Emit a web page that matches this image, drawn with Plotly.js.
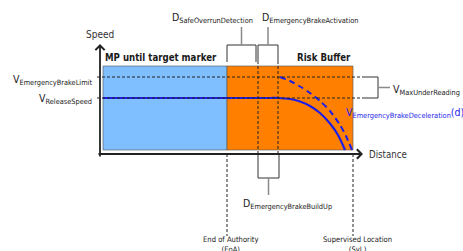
<!DOCTYPE html>
<html><head><meta charset="utf-8">
<script src="https://cdn.plot.ly/plotly-3.0.1.min.js"></script>
<style>html,body{margin:0;padding:0;background:#fff;}#chart{width:463px;height:251px;}</style>
</head><body><div id="chart"></div>
<script>
// ---- data (diagram units: distance along track, speed) ----
const zoneLabels = ["MP until target marker", "Risk Buffer"];
const zoneStart = [3, 127];
const zoneEnd = [127, 253];
const zoneLow = 4, zoneHigh = 88;

const speedLabels = ["V<sub>EmergencyBrakeLimit</sub>", "V<sub>ReleaseSpeed</sub>"];
const speedLevels = [77, 56];

const markerLabels = ["End of Authority<br>(EoA)", "Supervised Location<br>(SvL)"];
const markerDist = [127, 253];

const intervalLabels = ["D<sub>SafeOverrunDetection</sub>", "D<sub>EmergencyBrakeActivation</sub>", "D<sub>EmergencyBrakeBuildUp</sub>"];
const intervalStart = [127, 158, 158];
const intervalEnd = [156, 178, 179];

const releaseDist = [3, 170, 178, 190, 200, 210, 220, 230, 238, 245];
const releaseSpeed = [56, 56, 56, 55, 52.5, 48, 41, 30.5, 19, 4];
const ebdDist = [180, 190, 200, 210, 220, 230, 240, 246, 252];
const ebdSpeed = [77, 73, 67.5, 61, 53, 43, 29, 18, 4];

const axisLabels = ["Speed", "Distance"];
const curveLabel = "V<sub>EmergencyBrakeDeceleration</sub>(d)";
const bracketLabel = "V<sub>MaxUnderReading</sub>";

// ---- drawing ----
const FONT = "DejaVu Sans Condensed, DejaVu Sans, sans-serif";
const TXT = "#1a1a1a";
const axisEndX = 263, axisTopY = 110;
const shapes = [];
const ann = [];

// zones
const zoneFill = ["#80bfff", "#ff8000"];
zoneLabels.forEach((lab, i) => {
  shapes.push({type: "rect", xref: "x", yref: "y", x0: zoneStart[i], x1: zoneEnd[i], y0: zoneLow, y1: zoneHigh,
    fillcolor: zoneFill[i], line: {color: "rgba(90,90,90,0.65)", width: 1}, layer: "below"});
  ann.push({x: i === 0 ? zoneStart[i] : zoneEnd[i], y: zoneHigh, xref: "x", yref: "y", text: "<b>" + lab + "</b>",
    showarrow: false, xanchor: i === 0 ? "left" : "right", yanchor: "bottom", yshift: 1,
    font: {family: FONT, size: 9.6, color: TXT}});
});

// speed levels (thin dashed)
speedLevels.forEach((v, i) => {
  shapes.push({type: "line", xref: "x", yref: "y", x0: -3, x1: axisEndX, y0: v, y1: v,
    line: {color: "#222", width: 1, dash: "3px,2px"}});
  ann.push({x: 0, y: v, xref: "x", yref: "y", text: speedLabels[i], showarrow: false,
    xanchor: "right", yanchor: "middle", xshift: -6, yshift: i === 0 ? -3 : -1,
    font: {family: FONT, size: 10.5, color: TXT}});
});

// vertical dashed lines inside the risk buffer
[intervalStart[1], intervalEnd[1]].forEach(d => {
  shapes.push({type: "line", xref: "x", yref: "y", x0: d, x1: d, y0: 0, y1: 92,
    line: {color: "#222", width: 1, dash: "3px,2px"}});
});

// markers EoA / SvL
markerDist.forEach((d, i) => {
  shapes.push({type: "line", xref: "x", yref: "y", x0: d, x1: d, y0: 0, y1: -82,
    line: {color: "#222", width: 1, dash: "3px,2px"}});
  ann.push({x: d, y: -82, xref: "x", yref: "y", text: markerLabels[i], showarrow: false,
    xanchor: "center", yanchor: "top", xshift: 4, yshift: 3,
    font: {family: FONT, size: 7.6, color: TXT}});
});

// interval brackets
intervalLabels.forEach((lab, i) => {
  const a = intervalStart[i], b = intervalEnd[i], c = (a + b) / 2;
  if (i < 2) {
    shapes.push({type: "path", xref: "x", yref: "y", path: `M${a},92 L${a},109 L${b},109 L${b},92`,
      line: {color: "#333", width: 1}});
    shapes.push({type: "line", xref: "x", yref: "y", x0: c, x1: c, y0: 109, y1: 127,
      line: {color: "#8a8a8a", width: 1.5}});
    ann.push({x: c, y: 127, xref: "x", yref: "y", text: lab, showarrow: false,
      xanchor: i === 0 ? "right" : "left", xshift: i === 0 ? 13 : -8, yanchor: "bottom",
      font: {family: FONT, size: 10.5, color: TXT}});
  } else {
    shapes.push({type: "path", xref: "x", yref: "y", path: `M${a},0 L${a},-24 L${b},-24 L${b},0`,
      line: {color: "#333", width: 1}});
    shapes.push({type: "line", xref: "x", yref: "y", x0: c, x1: c, y0: -24, y1: -41,
      line: {color: "#8a8a8a", width: 1.5}});
    ann.push({x: c, y: -41, xref: "x", yref: "y", text: lab, showarrow: false,
      xanchor: "left", xshift: -28, yanchor: "top",
      font: {family: FONT, size: 10.5, color: TXT}});
  }
});

// V_MaxUnderReading bracket
const bx = axisEndX + 15, mid = (speedLevels[0] + speedLevels[1]) / 2;
shapes.push({type: "path", xref: "x", yref: "y",
  path: `M${axisEndX},${speedLevels[0]} L${bx},${speedLevels[0]} L${bx},${speedLevels[1]} L${axisEndX},${speedLevels[1]}`,
  line: {color: "#333", width: 1}});
shapes.push({type: "line", xref: "x", yref: "y", x0: bx, x1: bx + 12, y0: mid, y1: mid,
  line: {color: "#8a8a8a", width: 1.5}});
ann.push({x: bx + 12, y: mid, xref: "x", yref: "y", text: bracketLabel, showarrow: false,
  xanchor: "left", yanchor: "middle", xshift: 1, yshift: -2, font: {family: FONT, size: 10.5, color: TXT}});

// curve label
ann.push({x: releaseDist[releaseDist.length - 1], y: 41, xref: "x", yref: "y", text: curveLabel, showarrow: false,
  xanchor: "left", yanchor: "middle", xshift: -1, font: {family: FONT, size: 10.5, color: "#1e1ee6"}});

// axes with arrows
ann.push({x: 0, y: axisTopY, ax: 0, ay: -4, xref: "x", yref: "y", axref: "x", ayref: "y", text: "",
  showarrow: true, arrowhead: 4, arrowsize: 1, arrowwidth: 1.8, arrowcolor: "#222", standoff: 0});
ann.push({x: axisEndX, y: 0, ax: -3, ay: 0, xref: "x", yref: "y", axref: "x", ayref: "y", text: "",
  showarrow: true, arrowhead: 4, arrowsize: 1, arrowwidth: 1.8, arrowcolor: "#222", standoff: 0});
ann.push({x: 0, y: axisTopY, xref: "x", yref: "y", text: axisLabels[0], showarrow: false,
  xanchor: "center", yanchor: "bottom", yshift: 2, font: {family: FONT, size: 10, color: "#333"}});
ann.push({x: axisEndX, y: 0, xref: "x", yref: "y", text: axisLabels[1], showarrow: false,
  xanchor: "left", yanchor: "middle", xshift: 4, font: {family: FONT, size: 9.6, color: "#333"}});

const traces = [
  {x: releaseDist, y: releaseSpeed, type: "scatter", mode: "lines",
   line: {color: "#1e1ee6", width: 2.2, shape: "spline", smoothing: 0.8}, hoverinfo: "skip"},
  {x: ebdDist, y: ebdSpeed, type: "scatter", mode: "lines",
   line: {color: "#1e1ee6", width: 2, dash: "6px,4px", shape: "spline", smoothing: 0.8}, hoverinfo: "skip"}
];

const layout = {
  width: 463, height: 251, margin: {l: 0, r: 0, t: 0, b: 0},
  paper_bgcolor: "#fff", plot_bgcolor: "#fff", showlegend: false,
  xaxis: {range: [-100, 363], visible: false, fixedrange: true},
  yaxis: {range: [-97, 154], visible: false, fixedrange: true},
  shapes: shapes, annotations: ann
};
Plotly.newPlot("chart", traces, layout, {staticPlot: true, displayModeBar: false});
</script></body></html>
